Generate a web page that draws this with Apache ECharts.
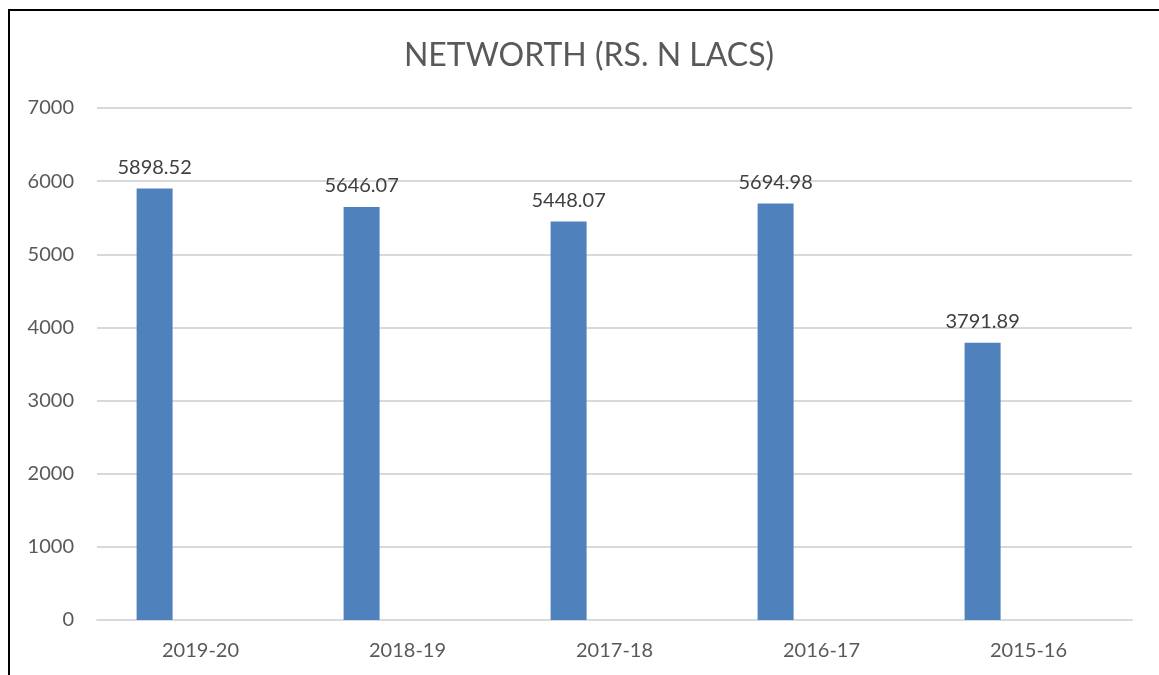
<!DOCTYPE html>
<html lang="en">
<head>
    <meta charset="UTF-8">
    <title>Networth</title>
    <script src="https://cdn.jsdelivr.net/npm/echarts@6/dist/echarts.min.js"></script>
    <style>
        html, body { margin: 0; padding: 0; background: #fff; overflow: hidden; }
        #frame {
            position: absolute; left: 8px; top: 9px; width: 1151px; height: 666px;
            border-left: 2px solid #000; border-top: 2px solid #000;
        }
        #main { position: absolute; left: 0; top: 0; width: 1159px; height: 675px; }
    </style>
</head>
<body>
<div id="frame"></div>
<div id="main"></div>
<script type="text/javascript">
    // 数据
    var years = ['2019-20', '2018-19', '2017-18', '2016-17', '2015-16'];
    var networth = [5898.52, 5646.07, 5448.07, 5694.98, 3791.89];
    var emptySeries = [null, null, null, null, null];

    var myChart = echarts.init(document.getElementById('main'));
    var font = 'Lato, "Open Sans", sans-serif';

    myChart.setOption({
        animation: false,
        title: {
            text: 'NETWORTH (RS. N LACS)',
            left: 584,
            textAlign: 'center',
            top: 35,
            textStyle: { fontFamily: font, fontSize: 32, fontWeight: 'normal', color: '#595959' }
        },
        grid: { left: 97, right: 27, top: 108, bottom: 55, containLabel: false },
        xAxis: {
            type: 'category',
            data: years,
            axisLine: { lineStyle: { color: '#d9d9d9', width: 2 } },
            axisTick: { show: false },
            axisLabel: { fontFamily: font, fontSize: 20, color: '#595959', margin: 21 }
        },
        yAxis: {
            type: 'value',
            min: 0, max: 7000, interval: 1000,
            axisLine: { show: false },
            axisTick: { show: false },
            splitLine: { lineStyle: { color: '#d9d9d9', width: 2 } },
            axisLabel: {
                fontFamily: font, fontSize: 20, color: '#595959', margin: 23,
                formatter: function (v) { return String(v); }
            }
        },
        series: [
            {
                type: 'bar',
                data: networth,
                barWidth: 36,
                barGap: '155%',
                itemStyle: { color: '#4f81bd' },
                label: {
                    show: true, position: 'top', distance: 11,
                    fontFamily: font, fontSize: 20, color: '#404040'
                }
            },
            {
                type: 'bar',
                data: emptySeries,
                barWidth: 36
            }
        ]
    });
</script>
</body>
</html>
